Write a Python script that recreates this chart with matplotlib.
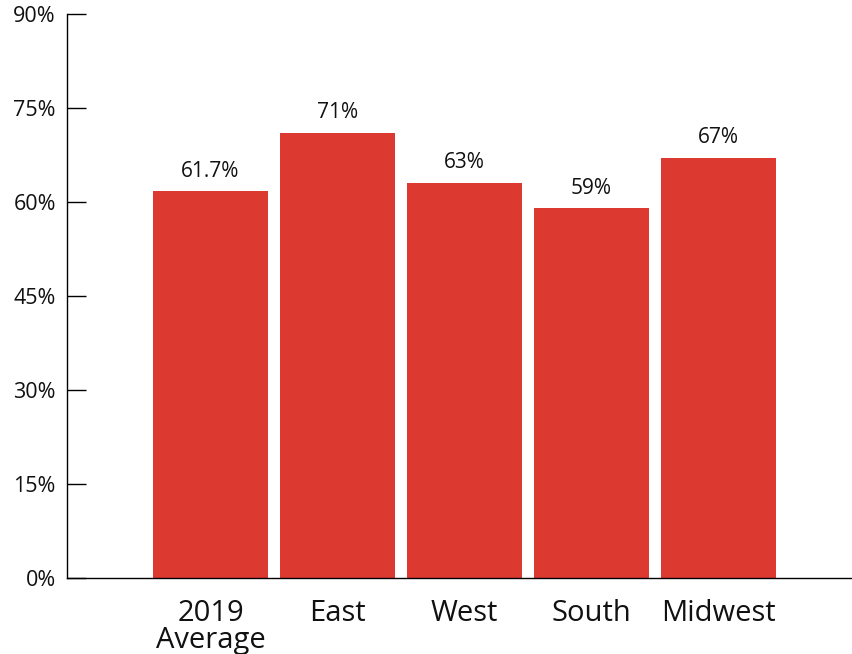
import matplotlib.pyplot as plt

plt.rcParams['font.family'] = ['Open Sans', 'DejaVu Sans']

categories = ['2019\nAverage', 'East', 'West', 'South', 'Midwest']
values = [61.7, 71, 63, 59, 67]
value_labels = ['61.7%', '71%', '63%', '59%', '67%']
yticks = [0, 15, 30, 45, 60, 75, 90]

fig = plt.figure(figsize=(8.52, 6.54), dpi=100)
ax = fig.add_axes([0.0786, 0.1162, 0.9214, 0.8624])

x = range(len(categories))
bars = ax.bar(x, values, width=0.906, color='#DC3A31')

for xi, v, lab in zip(x, values, value_labels):
    ax.annotate(lab, (xi, v), xytext=(0, 7), textcoords='offset points',
                ha='center', va='bottom', fontsize=15, color='#111111')

ax.set_ylim(0, 90)
ax.set_xlim(-1.13, 5.05)
ax.set_yticks(yticks)
ax.set_yticklabels([f'{t}%' for t in yticks], fontsize=15.5, color='#111111')
ax.set_xticks(list(x))
ax.set_xticklabels(categories, fontsize=21, color='#111111', linespacing=0.9)

ax.tick_params(axis='y', direction='in', length=14, width=1, pad=8)
ax.tick_params(axis='x', length=0, pad=15)

ax.spines['top'].set_visible(False)
ax.spines['right'].set_visible(False)
ax.spines['left'].set_linewidth(1)
ax.spines['bottom'].set_linewidth(1)

fig.savefig('out.png', dpi=100)
